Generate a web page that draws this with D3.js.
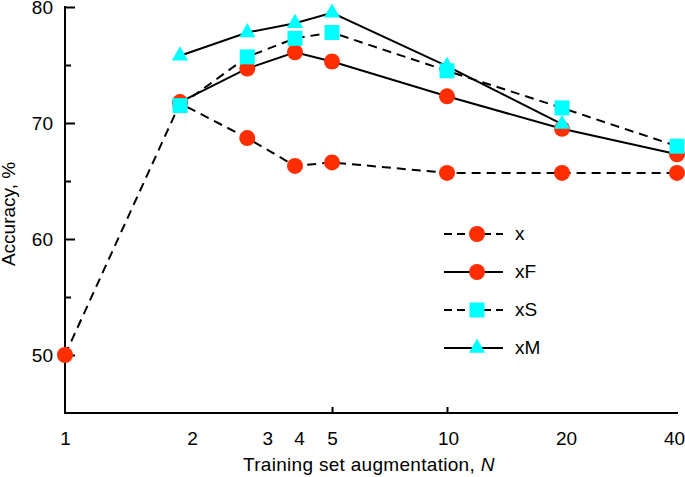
<!DOCTYPE html>
<html>
<head>
<meta charset="utf-8">
<script src="https://cdn.jsdelivr.net/npm/d3@7"></script>
<style>
  html, body { margin: 0; padding: 0; background: #fff; }
  svg { display: block; font-family: "Liberation Sans", Arial, Helvetica, sans-serif; }
</style>
</head>
<body>
<svg id="chart" width="685" height="477"></svg>
<script>
// ---- data ----
const xTicks = [1, 2, 3, 4, 5, 10, 20, 40];
const yTicks = [50, 60, 70, 80];
const yMinorTicks = [55, 65, 75];

const nX  = [1, 2, 3, 4, 5, 10, 20, 40];
const vX  = [50.0, 71.7, 68.7, 66.3, 66.6, 65.7, 65.7, 65.7];

const nXF = [2, 3, 4, 5, 10, 20, 40];
const vXF = [71.8, 74.7, 76.1, 75.3, 72.3, 69.5, 67.3];

const nXS = [2, 3, 4, 5, 10, 20, 40];
const vXS = [71.5, 75.7, 77.3, 77.8, 74.5, 71.3, 68.0];

const nXM = [2, 3, 4, 5, 10, 20];
const vXM = [75.8, 77.8, 78.6, 79.5, 74.9, 69.9];

const seriesNames = ["x", "xF", "xS", "xM"];

// ---- styles ----
const RED = "#ff2d00", CYAN = "#00ffff";
const tickLabelNudge = {1: 0, 2: 12, 3: 20, 4: 4, 5: 0, 10: 1, 20: 4, 40: -3};

const series = [
  {name: seriesNames[0], n: nX,  v: vX,  dash: "9,6", shape: "circle", color: RED},
  {name: seriesNames[1], n: nXF, v: vXF, dash: null,  shape: "circle", color: RED},
  {name: seriesNames[2], n: nXS, v: vXS, dash: "9,6", shape: "square", color: CYAN},
  {name: seriesNames[3], n: nXM, v: vXM, dash: null,  shape: "triangle", color: CYAN}
];

const svg = d3.select("#chart");
const mLeft = 65, mRight = 677, mTop = 7, mBottom = 413;

const x = d3.scaleLog().domain([1, 40]).range([mLeft, mRight]);
const y = d3.scaleLinear().domain([45, 80]).range([mBottom, mTop]);

const FS = 19;

// axes lines
svg.append("line").attr("x1", mLeft).attr("x2", mLeft).attr("y1", mTop).attr("y2", mBottom)
  .attr("stroke", "#000").attr("stroke-width", 2).attr("stroke-linecap", "square");
svg.append("line").attr("x1", mLeft).attr("x2", mRight).attr("y1", mBottom).attr("y2", mBottom)
  .attr("stroke", "#000").attr("stroke-width", 2).attr("stroke-linecap", "square");

// y axis
const yAxis = d3.axisLeft(y).tickValues(yTicks).tickSize(-10).tickPadding(12).tickFormat(d3.format("d"));
const gy = svg.append("g").attr("transform", `translate(${mLeft},0)`).call(yAxis);
gy.select(".domain").remove();
gy.selectAll(".tick line").attr("stroke-width", 2);
gy.selectAll(".tick text").attr("font-size", FS).attr("font-family", "Liberation Sans, Arial, sans-serif").attr("fill", "#000");
const yMinor = d3.axisLeft(y).tickValues(yMinorTicks).tickSize(-6).tickFormat("");
const gym = svg.append("g").attr("transform", `translate(${mLeft},0)`).call(yMinor);
gym.select(".domain").remove();
gym.selectAll(".tick line").attr("stroke-width", 2);

// x axis
const xAxis = d3.axisBottom(x).tickValues(xTicks).tickSize(0).tickPadding(19).tickFormat(d3.format("d"));
const gx = svg.append("g").attr("transform", `translate(0,${mBottom})`).call(xAxis);
gx.select(".domain").remove();
gx.selectAll(".tick text").attr("font-size", FS).attr("font-family", "Liberation Sans, Arial, sans-serif").attr("fill", "#000")
  .attr("dx", d => tickLabelNudge[d] || 0);
gx.selectAll(".tick line").remove();
const xMinor = d3.axisBottom(x).tickValues([5, 10]).tickSize(-6).tickFormat("");
const gxm = svg.append("g").attr("transform", `translate(0,${mBottom})`).call(xMinor);
gxm.select(".domain").remove();
gxm.selectAll(".tick line").attr("stroke-width", 2);

// axis titles
const xt = svg.append("text").attr("x", 243).attr("y", 471).attr("font-size", FS).attr("fill", "#000")
  .attr("letter-spacing", "0.3px");
xt.append("tspan").text("Training set augmentation, ");
xt.append("tspan").attr("font-style", "italic").text("N");

svg.append("text").attr("transform", "translate(15,214) rotate(-90)").attr("text-anchor", "middle")
  .attr("font-size", FS).attr("fill", "#000").text("Accuracy, %");

// lines
const line = d3.line().x(d => x(d[0])).y(d => y(d[1]));
series.forEach(s => {
  svg.append("path").datum(s.n.map((n, i) => [n, s.v[i]]))
    .attr("d", line).attr("fill", "none").attr("stroke", "#000").attr("stroke-width", 2)
    .attr("stroke-dasharray", s.dash);
});

// markers
const symCircle = d3.symbol().type(d3.symbolCircle).size(Math.PI * 8 * 8);
const symSquare = d3.symbol().type(d3.symbolSquare).size(15 * 15);
const symTri = d3.symbol().type(d3.symbolTriangle).size(115);
function drawMarker(g, shape, color, cx, cy) {
  const sym = shape === "circle" ? symCircle : shape === "square" ? symSquare : symTri;
  g.append("path").attr("d", sym()).attr("transform", `translate(${cx},${cy})`).attr("fill", color);
}
const drawOrder = [0, 1, 3, 2];
drawOrder.forEach(k => {
  const s = series[k];
  const g = svg.append("g");
  s.n.forEach((n, i) => drawMarker(g, s.shape, s.color, x(n), y(s.v[i])));
});

// legend
const legRows = [0, 1, 2, 3];
const legY = d3.scaleLinear().domain([0, 3]).range([234, 348]);
legRows.forEach(k => {
  const s = series[k];
  const ly = legY(k);
  const g = svg.append("g");
  g.append("line").attr("x1", 444).attr("x2", 503).attr("y1", ly).attr("y2", ly)
    .attr("stroke", "#000").attr("stroke-width", 2).attr("stroke-dasharray", s.dash ? "8,5" : null);
  drawMarker(g, s.shape, s.color, 477, ly);
  g.append("text").attr("x", 515).attr("y", ly + 6).attr("font-size", FS).attr("fill", "#000").text(s.name);
});
</script>
</body>
</html>
